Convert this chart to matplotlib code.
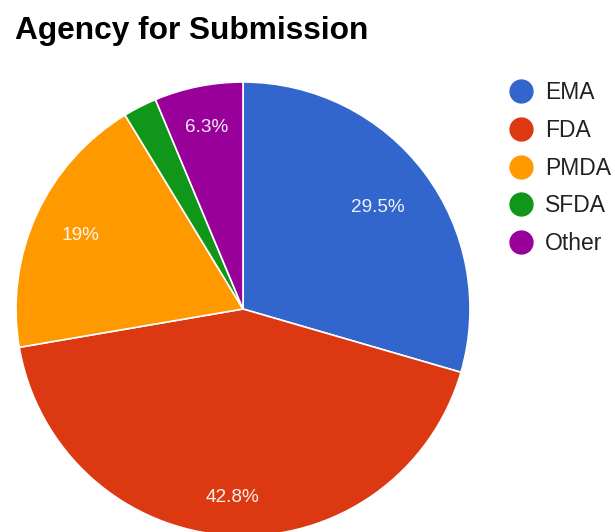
import numpy as np
import matplotlib
matplotlib.use("Agg")
import matplotlib.pyplot as plt
from matplotlib.lines import Line2D

agencies = ["EMA", "FDA", "PMDA", "SFDA", "Other"]
shares = [29.5, 42.8, 19.0, 2.4, 6.3]
shown_labels = ["29.5%", "42.8%", "19%", "", "6.3%"]
colors = ["#3366cc", "#dc3912", "#ff9900", "#109618", "#990099"]
label_radius = [0.745, 0.83, 0.785, 0.8, 0.815]

plt.rcParams['font.family'] = ['Liberation Sans', 'DejaVu Sans']

W, H = 615, 532
fig = plt.figure(figsize=(W / 100, H / 100), dpi=100)
ax = fig.add_axes([0, 0, 1, 1])

cx, cy, R = 243, H - 309, 227
wedges, _ = ax.pie(shares, colors=colors, startangle=90, counterclock=False,
                   center=(cx, cy), radius=R,
                   wedgeprops=dict(edgecolor="white", linewidth=1.2))

for w, lab, rr in zip(wedges, shown_labels, label_radius):
    if not lab:
        continue
    ang = np.deg2rad((w.theta1 + w.theta2) / 2)
    x = w.center[0] + rr * w.r * np.cos(ang)
    y = w.center[1] + rr * w.r * np.sin(ang)
    ax.text(x, y, lab, ha="center", va="center", color="white",
            fontsize=13.7, alpha=0.92)

ax.set_xlim(0, W)
ax.set_ylim(0, H)
ax.set_aspect("auto")
ax.axis("off")

fig.text(15 / W, 1 - 31 / H, "Agency for Submission", fontsize=22.8,
         fontweight="bold", color="#000000", ha="left", va="center")

fs = 16.5
handles = [Line2D([], [], marker="o", linestyle="none", markersize=16.5,
                  markerfacecolor=c, markeredgecolor=c) for c in colors]
leg = fig.legend(handles, agencies, loc="upper left",
                 bbox_to_anchor=(509.5 / W, 1 - 81 / H), frameon=False,
                 fontsize=fs, labelspacing=0.645, handletextpad=0.54,
                 handlelength=1.0, borderpad=0, borderaxespad=0)
for t in leg.get_texts():
    t.set_color("#222222")

fig.savefig("out.png", dpi=100, facecolor="white")
